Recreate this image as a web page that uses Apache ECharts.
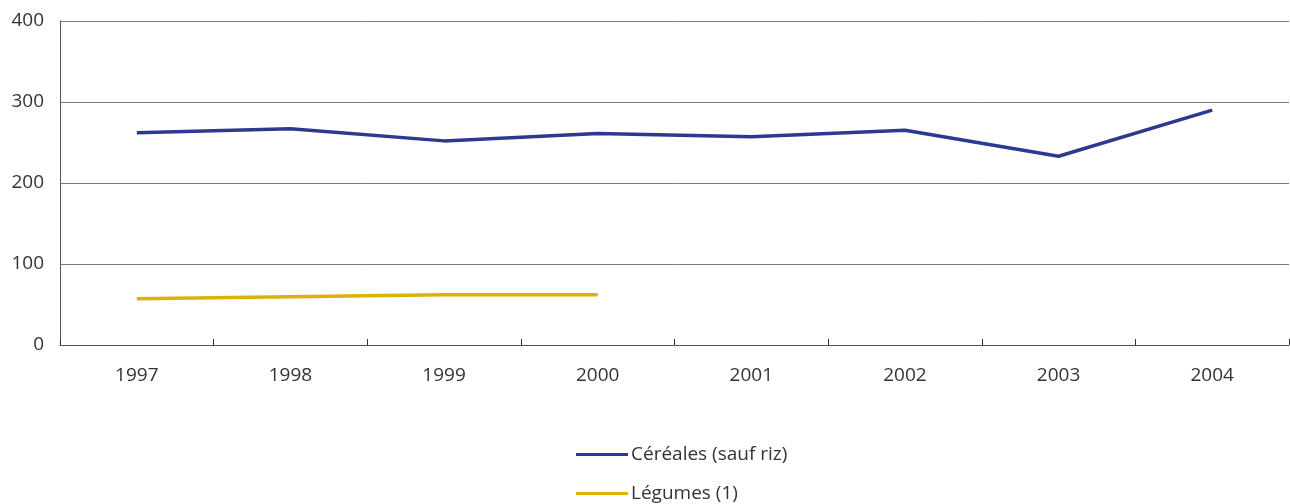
<!DOCTYPE html>
<html>
<head>
<meta charset="utf-8">
<script src="https://cdn.jsdelivr.net/npm/echarts@6/dist/echarts.min.js"></script>
<style>
  html, body { margin: 0; padding: 0; background: #fff; }
  #chart { width: 1290px; height: 504px; }
</style>
</head>
<body>
<div id="chart"></div>
<script>
// Years on the category axis
const years = ['1997', '1998', '1999', '2000', '2001', '2002', '2003', '2004'];

// Series values
const cereales = [262, 267, 252, 261, 257, 265, 233, 290];
const legumes = [57, 59.5, 62, 62, null, null, null, null];

// Value-axis ticks
const yMin = 0;
const yMax = 400;
const yStep = 100;

const font = '"Open Sans", "Noto Sans", sans-serif';
const textColor = '#333';
const blue = '#2b3990';
const gold = '#ddb10a';

// One legend block per series, stacked under the plot
function legendBlock(name, top) {
  return {
    orient: 'vertical',
    left: 571,
    top: top,
    icon: 'rect',
    itemWidth: 52,
    itemHeight: 3,
    itemGap: 0,
    textStyle: { fontFamily: font, fontSize: 19, color: textColor, padding: [0, 0, 0, -2] },
    data: [name]
  };
}

const chart = echarts.init(document.getElementById('chart'), null, { renderer: 'canvas' });

chart.setOption({
  animation: false,
  backgroundColor: '#fff',
  textStyle: { fontFamily: font },
  grid: { left: 60, right: 1, top: 21, bottom: 159, containLabel: false },
  legend: [
    legendBlock('Céréales (sauf riz)', 440),
    legendBlock('Légumes (1)', 479)
  ],
  xAxis: {
    type: 'category',
    data: years,
    boundaryGap: true,
    axisLine: { lineStyle: { color: '#555', width: 1 } },
    axisTick: { show: true, inside: true, length: 6, lineStyle: { color: '#333' } },
    axisLabel: { fontFamily: font, fontSize: 19, color: textColor, margin: 21 },
    splitLine: { show: false }
  },
  yAxis: {
    type: 'value',
    min: yMin,
    max: yMax,
    interval: yStep,
    axisLine: { show: true, lineStyle: { color: '#555', width: 1 } },
    axisTick: { show: false },
    axisLabel: { fontFamily: font, fontSize: 19, color: textColor, margin: 16 },
    splitLine: { show: true, lineStyle: { color: '#7a7a7a', width: 1 } }
  },
  series: [
    {
      name: 'Céréales (sauf riz)',
      type: 'line',
      data: cereales,
      symbol: 'none',
      lineStyle: { color: blue, width: 3.5 },
      itemStyle: { color: blue }
    },
    {
      name: 'Légumes (1)',
      type: 'line',
      data: legumes,
      symbol: 'none',
      connectNulls: false,
      lineStyle: { color: gold, width: 3.5 },
      itemStyle: { color: gold }
    }
  ]
});
</script>
</body>
</html>
